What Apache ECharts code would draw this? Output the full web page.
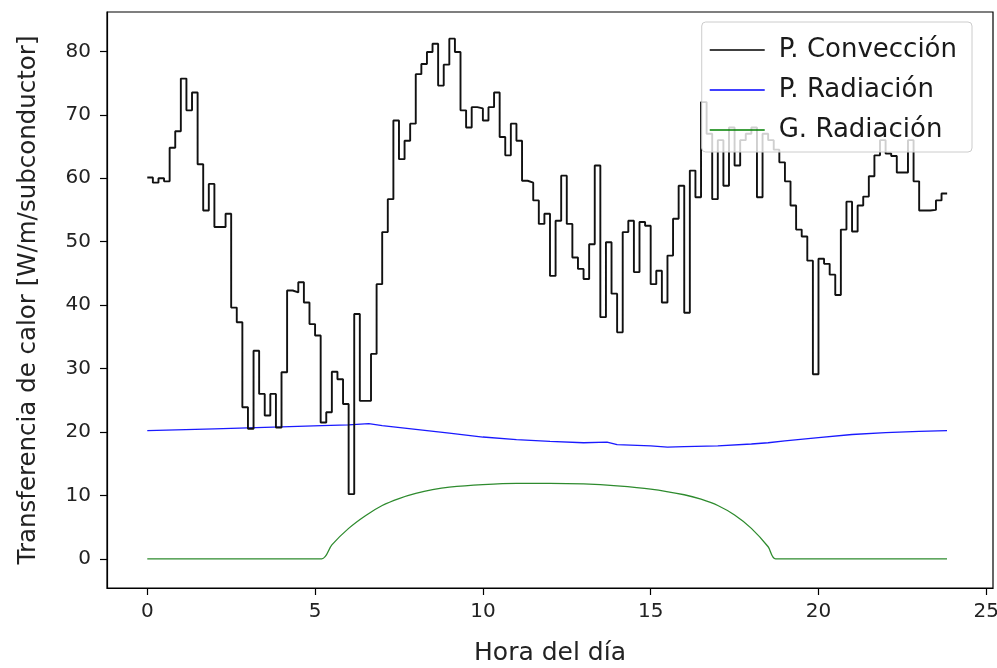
<!DOCTYPE html>
<html>
<head>
<meta charset="utf-8">
<title>Transferencia de calor</title>
<script src="https://cdn.jsdelivr.net/npm/echarts@6/dist/echarts.min.js"></script>
<style>
  html, body { margin: 0; padding: 0; background: #fff; }
  #chart { width: 997px; height: 668px; }
</style>
</head>
<body>
<div id="chart"></div>
<script>
// Potencia por convección, un valor cada 10 minutos (hora = índice / 6)
const conveccion = [
  60.1, 59.3, 60.0, 59.5, 64.8, 67.4, 75.7, 70.7, 73.5, 62.2, 54.9, 59.1,
  52.3, 52.3, 54.4, 39.6, 37.3, 23.9, 20.5, 32.8, 26.0, 22.6, 26.0, 20.7,
  29.4, 42.3, 42.0, 43.6, 40.4, 37.0, 35.2, 21.5, 23.1, 29.5, 28.3, 24.4,
  10.2, 38.6, 24.9, 24.9, 32.3, 43.3, 51.5, 56.7, 69.1, 63.0, 65.9, 68.6,
  76.4, 78.0, 79.9, 81.2, 74.6, 77.9, 82.0, 79.9, 70.7, 68.0, 71.2, 71.0,
  69.1, 71.2, 73.5, 66.5, 63.6, 68.6, 65.9, 59.6, 59.3, 56.5, 52.8, 54.4,
  44.6, 53.3, 60.4, 52.8, 47.5, 45.7, 44.1, 49.6, 62.0, 38.1, 49.9, 41.8,
  35.7, 51.5, 53.3, 45.2, 53.1, 52.5, 43.3, 45.4, 40.4, 47.8, 53.6, 58.8,
  38.8, 61.2, 57.0, 72.0, 67.0, 56.7, 66.0, 58.8, 68.0, 62.0, 66.0, 67.0,
  68.0, 57.0, 67.0, 66.0, 64.5, 62.5, 59.5, 55.7, 51.9, 50.8, 47.0, 29.1,
  47.3, 46.5, 44.8, 41.6, 51.9, 56.3, 51.6, 55.7, 57.1, 60.3, 63.6, 66.0,
  63.9, 63.5, 60.9, 60.9, 66.0, 59.5, 54.9, 54.9, 55.0, 56.5, 57.6, 57.6
];

// Pérdida por radiación [hora, W/m]
const radiacionP = [
  [0, 20.2], [2, 20.5], [4, 20.8], [5.2, 21.0], [6, 21.1], [6.6, 21.3],
  [7, 21.0], [8, 20.4], [9, 19.8], [10, 19.2], [11, 18.8], [12, 18.5],
  [13, 18.3], [13.7, 18.4], [14, 18.0], [15, 17.8], [15.5, 17.6], [16, 17.7],
  [17, 17.8], [18, 18.1], [18.5, 18.3], [19, 18.6], [20, 19.1], [21, 19.6],
  [22, 19.9], [23, 20.1], [23.83, 20.2]
];

// Ganancia por radiación solar [hora, W/m]
const radiacionG = [
  [0, 0], [5.2, 0], [5.5, 2.2], [6, 4.8], [6.5, 6.8], [7, 8.4], [7.5, 9.5],
  [8, 10.3], [8.5, 10.9], [9, 11.3], [10, 11.7], [11, 11.9], [12, 11.9],
  [13, 11.8], [14, 11.5], [15, 11.0], [16, 10.1], [16.5, 9.4], [17, 8.4],
  [17.5, 6.9], [18, 4.8], [18.5, 1.9], [18.72, 0], [23.83, 0]
];

const xTicks = [0, 5, 10, 15, 20, 25];
const yTicks = [0, 10, 20, 30, 40, 50, 60, 70, 80];

const seriesNames = ['P. Convección', 'P. Radiación', 'G. Radiación'];

const conveccionData = conveccion.map((v, i) => [i / 6, v]);

const FONT = 'DejaVu Sans';
const chart = echarts.init(document.getElementById('chart'), null, { renderer: 'canvas' });

chart.setOption({
  animation: false,
  backgroundColor: '#fff',
  textStyle: { fontFamily: FONT },
  grid: {
    left: 107, right: 4, top: 12, bottom: 80,
    outerBoundsMode: 'none',
    containLabel: false,
    show: true, borderColor: '#000', borderWidth: 1.2, backgroundColor: 'transparent'
  },
  legend: {
    data: seriesNames,
    orient: 'vertical',
    right: 25, top: 22,
    icon: 'rect',
    itemWidth: 55, itemHeight: 1.6,
    itemGap: 14,
    padding: [15, 15, 9, 8],
    backgroundColor: 'rgba(255,255,255,0.8)',
    borderColor: '#cccccc', borderWidth: 1, borderRadius: 4,
    textStyle: { fontFamily: FONT, fontSize: 26, color: '#1a1a1a', padding: [0, 0, 0, 9] }
  },
  xAxis: {
    type: 'value',
    min: -1.2, max: 25.2,
    name: 'Hora del día',
    nameLocation: 'middle',
    nameGap: 53,
    nameTextStyle: { fontFamily: FONT, fontSize: 25, color: '#222' },
    splitLine: { show: false },
    axisLine: { show: true, onZero: false, lineStyle: { color: '#000', width: 1.2 } },
    axisTick: { show: true, length: 7, customValues: xTicks, lineStyle: { color: '#000', width: 1.2 } },
    axisLabel: { customValues: xTicks, fontFamily: FONT, fontSize: 20, color: '#222', margin: 14 }
  },
  yAxis: {
    type: 'value',
    min: -4.6, max: 86.2,
    name: 'Transferencia de calor [W/m/subconductor]',
    nameLocation: 'middle',
    nameRotate: 90,
    nameGap: 66,
    nameTextStyle: { fontFamily: FONT, fontSize: 24.5, color: '#222' },
    splitLine: { show: false },
    axisLine: { show: true, onZero: false, lineStyle: { color: '#000', width: 1.2 } },
    axisTick: { show: true, length: 7, customValues: yTicks, lineStyle: { color: '#000', width: 1.2 } },
    axisLabel: { customValues: yTicks, fontFamily: FONT, fontSize: 20, color: '#222', margin: 16 }
  },
  series: [
    {
      name: seriesNames[0],
      type: 'line',
      step: 'end',
      data: conveccionData,
      showSymbol: false,
      color: '#000',
      lineStyle: { color: '#111', width: 1.9 },
      z: 3
    },
    {
      name: seriesNames[1],
      type: 'line',
      data: radiacionP,
      showSymbol: false,
      color: '#0000ff',
      lineStyle: { color: '#1a1aff', width: 1.3 },
      z: 2
    },
    {
      name: seriesNames[2],
      type: 'line',
      data: radiacionG,
      showSymbol: false,
      smooth: 0.3,
      color: '#008000',
      lineStyle: { color: '#2e8b2e', width: 1.3 },
      z: 2
    }
  ]
});
</script>
</body>
</html>
